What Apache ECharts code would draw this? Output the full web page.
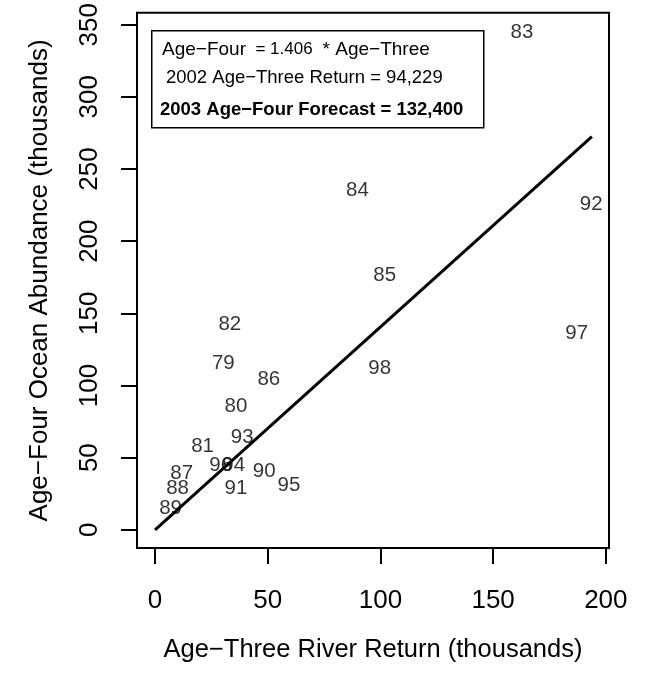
<!DOCTYPE html>
<html>
<head>
<meta charset="utf-8">
<script src="https://cdn.jsdelivr.net/npm/echarts@6/dist/echarts.min.js"></script>
<style>
  html, body { margin: 0; padding: 0; background: #fff; }
  #chart { width: 646px; height: 678px; }
</style>
</head>
<body>
<div id="chart"></div>
<script>
// return years used as point labels
var years = ['79', '80', '81', '82', '83', '84', '85', '86', '87', '88',
             '89', '90', '91', '92', '93', '94', '95', '96', '97', '98'];
// age-three river return (thousands)
var ageThree = [30.3, 35.9, 21.1, 33.2, 162.8, 89.8, 101.9, 50.5, 11.8, 10.0,
                6.9, 48.4, 35.9, 193.5, 38.7, 34.9, 59.4, 29.1, 187.1, 99.7];
// age-four ocean abundance (thousands)
var ageFour = [115.4, 85.4, 58.0, 142.2, 344.4, 235.2, 176.2, 104.6, 38.8, 28.5,
               14.6, 40.6, 28.5, 225.4, 64.1, 44.5, 30.7, 44.5, 136.3, 112.2];
// fitted line end points
var fitX = [0, 193.8];
var fitY = [0, 272.5];
var xTicks = [0, 50, 100, 150, 200];
var yTicks = [0, 50, 100, 150, 200, 250, 300, 350];

var font = 'Liberation Sans, Arial, Helvetica, sans-serif';

var chart = echarts.init(document.getElementById('chart'));

var points = years.map(function (y, i) {
  return { name: y, value: [ageThree[i], ageFour[i]] };
});

var option = {
  backgroundColor: '#fff',
  animation: false,
  textStyle: { fontFamily: font, color: '#000' },
  grid: {
    left: 137, right: 37, top: 12, bottom: 130,
    show: true, borderColor: '#000', borderWidth: 2, backgroundColor: 'transparent'
  },
  xAxis: {
    type: 'value', min: -8, max: 201.4,
    splitLine: { show: false },
    axisLine: { show: false, onZero: false },
    axisTick: { show: true, customValues: xTicks, length: 16, inside: false,
                lineStyle: { color: '#000', width: 2 } },
    axisLabel: { customValues: xTicks, margin: 40, fontSize: 26, color: '#000', fontFamily: font },
    name: 'Age\u2212Three River Return (thousands)',
    nameLocation: 'middle', nameGap: 89,
    nameTextStyle: { fontSize: 25.5, color: '#000', fontFamily: font }
  },
  yAxis: {
    type: 'value', min: -12.6, max: 358.2,
    splitLine: { show: false },
    axisLine: { show: false, onZero: false },
    axisTick: { show: true, customValues: yTicks, length: 16, inside: false,
                lineStyle: { color: '#000', width: 2 } },
    axisLabel: { customValues: yTicks, margin: 34, rotate: 90, fontSize: 26, color: '#000', fontFamily: font },
    name: 'Age\u2212Four Ocean Abundance (thousands)',
    nameLocation: 'middle', nameGap: 84,
    nameTextStyle: { fontSize: 26, color: '#000', fontFamily: font }
  },
  series: [
    {
      type: 'line',
      data: fitX.map(function (x, i) { return [x, fitY[i]]; }),
      showSymbol: false,
      lineStyle: { color: '#000', width: 3 },
      z: 2
    },
    {
      type: 'scatter',
      data: points,
      symbolSize: 0,
      itemStyle: { color: '#000' },
      label: {
        show: true, position: 'inside', formatter: '{b}',
        fontSize: 20.5, color: '#000', fontFamily: font,
        textBorderWidth: 0
      },
      z: 3
    }
  ],
  graphic: [
    {
      type: 'rect', left: 151, top: 30, z: 10,
      shape: { width: 332, height: 97 },
      style: { fill: '#fff', stroke: '#000', lineWidth: 1.5 }
    },
    {
      type: 'text', left: 162, top: 40, z: 11,
      style: {
        text: '{a|Age\u2212Four}{b|  = 1.406 }{a| * Age\u2212Three}',
        rich: {
          a: { fontSize: 19, fontFamily: font, fill: '#000' },
          b: { fontSize: 17, fontFamily: font, fill: '#000' }
        }
      }
    },
    {
      type: 'text', left: 166, top: 68, z: 11,
      style: { text: '2002 Age\u2212Three Return = 94,229', fontSize: 18.5, fontFamily: font, fill: '#000' }
    },
    {
      type: 'text', left: 160, top: 100, z: 11,
      style: { text: '2003 Age\u2212Four Forecast = 132,400', fontSize: 18.5, fontWeight: 'bold', fontFamily: font, fill: '#000' }
    }
  ]
};

chart.setOption(option);
</script>
</body>
</html>
